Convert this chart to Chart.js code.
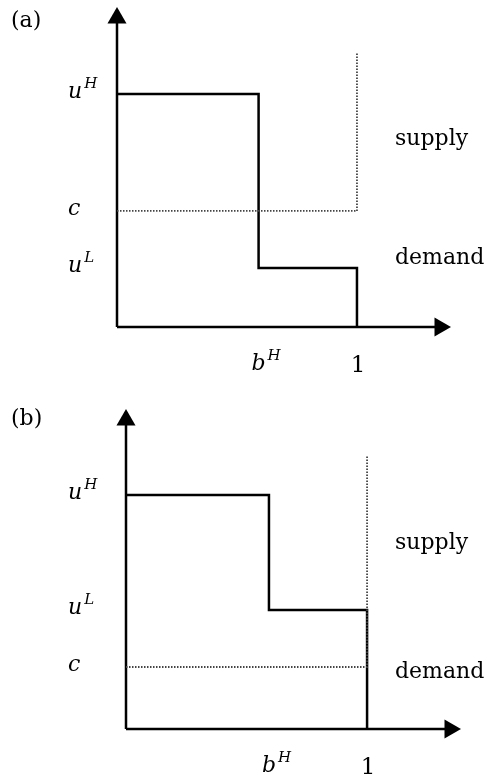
<!DOCTYPE html>
<html>
<head>
<meta charset="utf-8">
<script src="https://cdn.jsdelivr.net/npm/chart.js@4/dist/chart.umd.min.js"></script>
<style>
  html, body { margin: 0; padding: 0; background: #fff; }
  body { width: 491px; height: 776px; position: relative; overflow: hidden; }
  canvas { position: absolute; left: 0; }
  #panel-a { top: 0; }
  #panel-b { top: 380px; }
</style>
</head>
<body>
<canvas id="panel-a" width="491" height="380"></canvas>
<canvas id="panel-b" width="491" height="396"></canvas>
<script>
// tick labels (base letter + superscript)
const yTickText = ['u', 'u', 'c'];
const yTickSup = ['H', 'L', ''];
const xTickText = ['b', '1'];
const xTickSup = ['H', ''];
const seriesNames = ['supply', 'demand'];
const panelTitles = ['(a)', '(b)'];

// panel (a): levels uH, uL, c and quantities bH, 1
const yLevelsA = [1.00, 0.253, 0.498];
const xLevelsA = [0.59, 1];
const supplyTopA = 1.176;
const axisEndA = [1.346, 1.326];      // x, y
const seriesLabelYA = [0.78, 0.27];

// panel (b)
const yLevelsB = [1.00, 0.509, 0.265];
const xLevelsB = [0.593, 1];
const supplyTopB = 1.171;
const axisEndB = [1.344, 1.321];
const seriesLabelYB = [0.77, 0.22];

const INK = '#000';
const DOT = '#444';
const MATH_FONT = '"DejaVu Serif", "Liberation Serif", serif';

// draws the axis labels, series names and panel letter
const labelPlugin = {
    id: 'panelLabels',
    afterDraw(chart, args, opts) {
        const ctx = chart.ctx;
        const xs = chart.scales.x, ys = chart.scales.y;
        ctx.save();
        ctx.fillStyle = INK;
        ctx.textBaseline = 'alphabetic';

        const drawSup = (base, sup, x, y, align) => {
            ctx.font = 'italic 22px ' + MATH_FONT;
            const w = ctx.measureText(base).width;
            let left = x;
            if (align === 'center') left = x - w / 2;
            ctx.fillText(base, left, y);
            if (sup) {
                ctx.font = 'italic 15px ' + MATH_FONT;
                ctx.fillText(sup, left + w + 2, y - 10);
            }
        };

        // y tick labels
        opts.yLevels.forEach((v, i) => {
            drawSup(yTickText[i], yTickSup[i], 68, ys.getPixelForValue(v) + 4, 'left');
        });

        // x tick labels
        opts.xLevels.forEach((v, i) => {
            const px = xs.getPixelForValue(v);
            const py = ys.getPixelForValue(0) + 43;
            if (xTickSup[i]) {
                drawSup(xTickText[i], xTickSup[i], px, py, 'center');
            } else {
                ctx.font = '23px ' + MATH_FONT;
                ctx.textAlign = 'center';
                ctx.fillText(xTickText[i], px + 1, py + 2);
                ctx.textAlign = 'left';
            }
        });

        // series names
        ctx.font = '22px ' + MATH_FONT;
        opts.seriesY.forEach((v, i) => {
            ctx.fillText(seriesNames[i], 395, ys.getPixelForValue(v));
        });

        // panel letter
        ctx.font = '22px ' + MATH_FONT;
        ctx.fillText(opts.title, 11, opts.titleY);
        ctx.restore();
    }
};

function buildPanel(canvasId, yLevels, xLevels, supplyTop, axisEnd, seriesY, title, titleY, padding) {
    const [uH, uL, c] = yLevels;
    const [bH, one] = xLevels;

    const demand = [
        { x: 0, y: uH }, { x: bH, y: uH }, { x: bH, y: uL },
        { x: one, y: uL }, { x: one, y: 0 }
    ];
    const supply = [{ x: 0, y: c }, { x: one, y: c }, { x: one, y: supplyTop }];
    const yAxis = [{ x: 0, y: 0 }, { x: 0, y: axisEnd[1] }];
    const xAxis = [{ x: 0, y: 0 }, { x: axisEnd[0], y: 0 }];

    const lineDefaults = { clip: false, tension: 0, fill: false, pointRadius: 0 };

    return new Chart(document.getElementById(canvasId), {
        type: 'line',
        data: {
            datasets: [
                {
                    ...lineDefaults, label: 'supply', data: supply,
                    borderColor: DOT, borderWidth: 1.8, borderDash: [1.5, 1.5]
                },
                {
                    ...lineDefaults, label: 'demand', data: demand,
                    borderColor: INK, borderWidth: 2.5
                },
                {
                    ...lineDefaults, label: 'y axis', data: yAxis,
                    borderColor: INK, borderWidth: 2.5,
                    pointRadius: [0, 11], pointStyle: 'triangle', rotation: 0,
                    pointBackgroundColor: INK, pointBorderWidth: 0
                },
                {
                    ...lineDefaults, label: 'x axis', data: xAxis,
                    borderColor: INK, borderWidth: 2.5,
                    pointRadius: [0, 11], pointStyle: 'triangle', rotation: 90,
                    pointBackgroundColor: INK, pointBorderWidth: 0
                }
            ]
        },
        options: {
            responsive: false,
            animation: false,
            layout: { padding },
            plugins: {
                legend: { display: false },
                tooltip: { enabled: false },
                panelLabels: { yLevels, xLevels, seriesY, title, titleY }
            },
            scales: {
                x: { type: 'linear', display: false, min: 0, max: axisEnd[0] },
                y: { type: 'linear', display: false, min: 0, max: axisEnd[1] }
            }
        },
        plugins: [labelPlugin]
    });
}

buildPanel('panel-a', yLevelsA, xLevelsA, supplyTopA, axisEndA, seriesLabelYA,
    panelTitles[0], 27, { left: 117, right: 51, top: 18, bottom: 53 });
buildPanel('panel-b', yLevelsB, xLevelsB, supplyTopB, axisEndB, seriesLabelYB,
    panelTitles[1], 45, { left: 126, right: 41, top: 40, bottom: 47 });
</script>
</body>
</html>
